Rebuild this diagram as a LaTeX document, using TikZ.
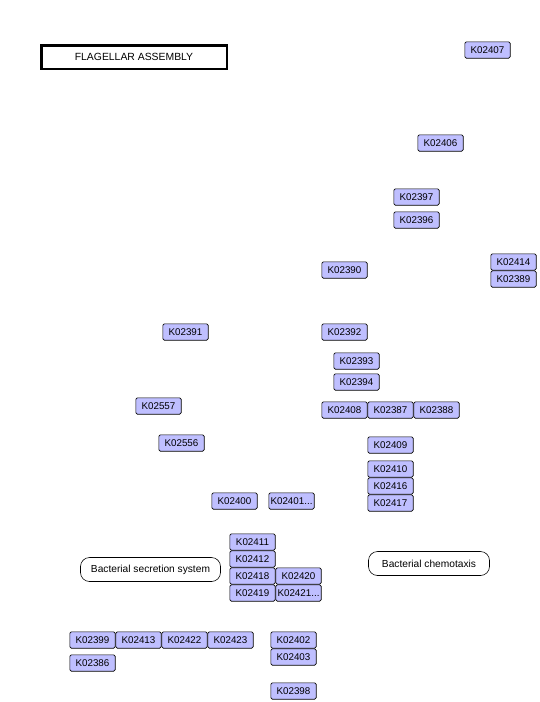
\documentclass[tikz,border=0pt]{standalone}
\usepackage{fontspec}
\setmainfont{Liberation Sans}
\usetikzlibrary{positioning}
\definecolor{konode}{HTML}{BFBFFF}

\begin{document}
\begin{tikzpicture}[x=1pt, y=-1pt,
    node distance=0pt and 0pt,
    ko/.style={draw, fill=konode, line width=0.6pt, rounded corners=1.5pt, minimum width=45.4pt, minimum height=16.4pt, inner sep=0pt, font=\fontsize{9.8}{11}\selectfont},
    pathmap/.style={draw, line width=0.6pt, rounded corners=9pt, minimum height=24pt, inner sep=0pt, font=\fontsize{10.2}{12}\selectfont},
    titlebox/.style={draw, line width=2.5pt, minimum width=185.5pt, minimum height=23.5pt, inner sep=0pt, font=\fontsize{10.4}{12}\selectfont}]
    \useasboundingbox (0,0) rectangle (539,702);
    \node[titlebox] (title) at (134,57) {FLAGELLAR ASSEMBLY};
    % upper right
    \node[ko] (k02407) at (487.5,50) {K02407};
    \node[ko] (k02406) at (440.5,143) {K02406};
    \node[ko] (k02397) at (416.5,197) {K02397};
    \node[ko] (k02396) at (416.5,220) {K02396};
    \node[ko] (k02414) at (513.5,262) {K02414};
    \node[ko, below=of k02414] (k02389) {K02389};
    \node[ko] (k02390) at (344.5,270) {K02390};
    % middle
    \node[ko] (k02391) at (185.5,332) {K02391};
    \node[ko] (k02392) at (344.5,332) {K02392};
    \node[ko] (k02393) at (356.5,361) {K02393};
    \node[ko] (k02394) at (356.5,382) {K02394};
    \node[ko] (k02408) at (344.5,410) {K02408};
    \node[ko, right=of k02408] (k02387) {K02387};
    \node[ko, right=of k02387] (k02388) {K02388};
    \node[ko] (k02557) at (158.5,406) {K02557};
    \node[ko] (k02556) at (181.5,443) {K02556};
    \node[ko] (k02409) at (390.5,445) {K02409};
    \node[ko] (k02410) at (390.5,469) {K02410};
    \node[ko, below=of k02410] (k02416) {K02416};
    \node[ko, below=of k02416] (k02417) {K02417};
    \node[ko] (k02400) at (234.5,501) {K02400};
    \node[ko] (k02401) at (291.5,501) {K02401...};
    % lower stack
    \node[ko] (k02411) at (252.5,542) {K02411};
    \node[ko, below=of k02411] (k02412) {K02412};
    \node[ko, below=of k02412] (k02418) {K02418};
    \node[ko, below=of k02418] (k02419) {K02419};
    \node[ko, right=of k02418] (k02420) {K02420};
    \node[ko, right=of k02419] (k02421) {K02421...};
    \node[pathmap, minimum width=140pt] (secretion) at (150.5,569.5) {Bacterial secretion system};
    \node[pathmap, minimum width=121pt] (chemotaxis) at (429,563.5) {Bacterial chemotaxis};
    % bottom
    \node[ko] (k02399) at (92.5,640) {K02399};
    \node[ko, right=of k02399] (k02413) {K02413};
    \node[ko, right=of k02413] (k02422) {K02422};
    \node[ko, right=of k02422] (k02423) {K02423};
    \node[ko] (k02386) at (92.5,663) {K02386};
    \node[ko] (k02402) at (293.5,640) {K02402};
    \node[ko, below=of k02402] (k02403) {K02403};
    \node[ko] (k02398) at (293.5,691) {K02398};
\end{tikzpicture}
\end{document}
